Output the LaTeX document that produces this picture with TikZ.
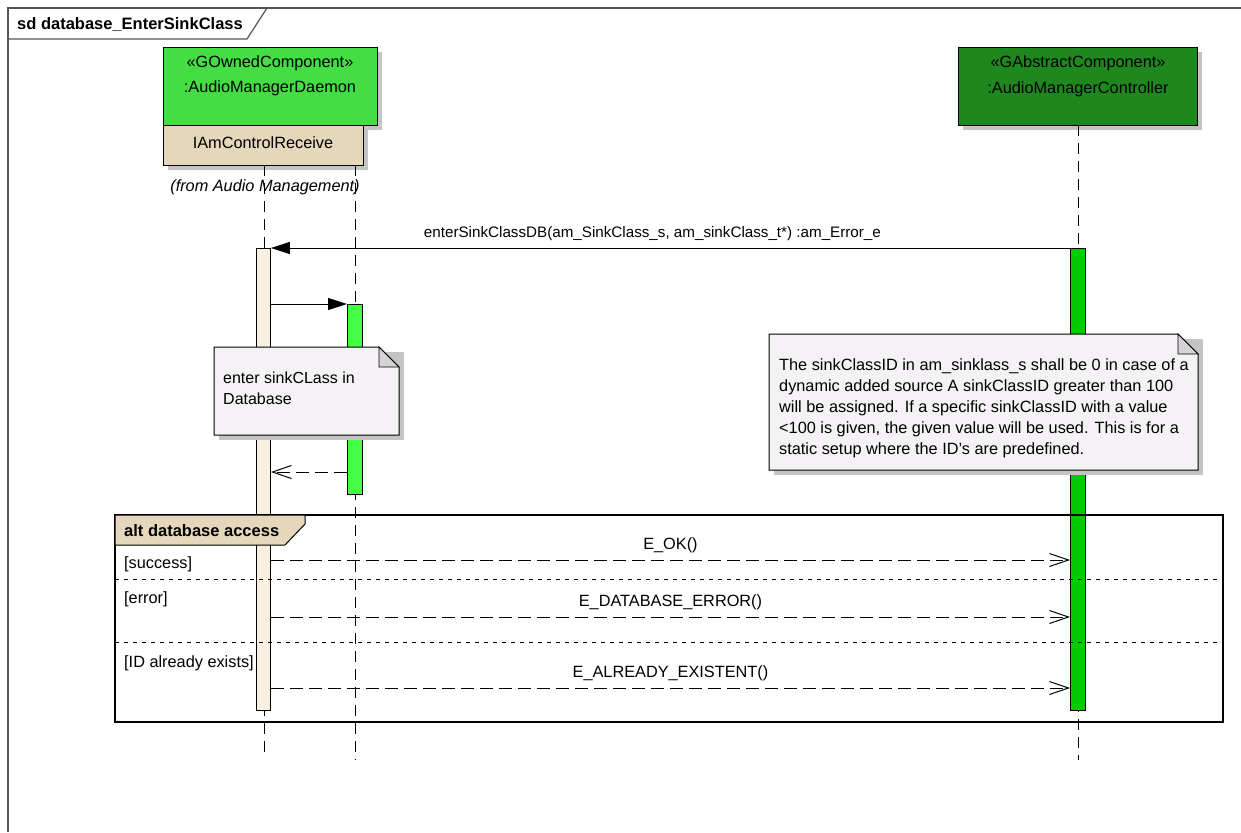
\documentclass[tikz,border=0pt]{standalone}
\usepackage{fontspec}
\setmainfont{Liberation Sans}
\usetikzlibrary{arrows.meta}
\definecolor{daemongreen}{HTML}{44DD44}
\definecolor{ctrlgreen}{HTML}{1E871E}
\definecolor{tanbox}{HTML}{E5D6BC}
\definecolor{linenbar}{HTML}{FAF0E1}
\definecolor{actgreen}{HTML}{00CC00}
\definecolor{actlight}{HTML}{44FF44}
\definecolor{notefill}{HTML}{F5F2F5}
\definecolor{shadowgray}{HTML}{C4C4C4}
\definecolor{foldgray}{HTML}{D6D3D6}
\definecolor{framegray}{HTML}{555555}
\tikzset{
  txt/.style={font=\fontsize{16.3}{19}\selectfont, inner sep=0pt},
  boldtxt/.style={font=\fontsize{16.5}{19}\selectfont\bfseries, inner sep=0pt},
  headbox/.style={draw=black, line width=1pt, anchor=north west, inner sep=0pt},
  actbar/.style={draw=black, line width=0.9pt, anchor=north west, inner sep=0pt},
  lifeline/.style={draw=black, line width=1pt, dash pattern=on 11pt off 7pt},
  syncmsg/.style={draw=black, line width=1pt, -{Triangle[length=19pt,width=12pt]}},
  retmsg/.style={draw=black, line width=1pt, dash pattern=on 13pt off 6pt, -{Straight Barb[length=19pt,width=13pt]}},
  divider/.style={draw=black, line width=0.9pt, dash pattern=on 4pt off 5pt},
}
\begin{document}
\begin{tikzpicture}[x=1pt,y=-1pt]
\useasboundingbox (0,0) rectangle (1241,832);
\fill[white] (0,0) rectangle (1241,832);

% outer frame (top and left only visible)
\draw[framegray, line width=1.2pt] (8,832) -- (8,8) -- (1241,8);
\draw[framegray, line width=1.2pt] (8,39) -- (247,39) -- (267,8);
\node[boldtxt, anchor=west] (title) at (17,25) {sd database\_EnterSinkClass};

% lifeline heads
\fill[shadowgray] (168,52) rectangle (382,130);
\node[headbox, fill=daemongreen, minimum width=214pt, minimum height=78pt] (dm) at (163,47) {};
\node[txt] (dmst) at (270,63) {«GOwnedComponent»};
\node[txt] (dmnm) at (270,88) {:AudioManagerDaemon};

\fill[shadowgray] (168,130) rectangle (368,170);
\node[headbox, fill=tanbox, minimum width=200pt, minimum height=40pt] (ifc) at (163,125) {};
\node[txt] (ifcnm) at (263,143) {IAmControlReceive};
\node[txt, font=\fontsize{16.3}{19}\selectfont\itshape] (from) at (265,187) {(from Audio Management)};

\fill[shadowgray] (963,52) rectangle (1202,130);
\node[headbox, fill=ctrlgreen, minimum width=239pt, minimum height=78pt] (ctl) at (958,47) {};
\node[txt] (ctlst) at (1078,63) {«GAbstractComponent»};
\node[txt] (ctlnm) at (1078,89) {:AudioManagerController};

% lifelines
\coordinate (l1top) at (264,165);
\coordinate (l1bot) at (264,758);
\coordinate (l2top) at (355,165);
\coordinate (l2bot) at (355,760);
\coordinate (l3top) at (1078,125);
\coordinate (l3bot) at (1078,760);
\draw[lifeline] (l1top) -- (l1bot);
\draw[lifeline] (l2top) -- (l2bot);
\draw[lifeline] (l3top) -- (l3bot);

% activation bars
\node[actbar, fill=linenbar, minimum width=14pt, minimum height=462pt] (act1) at (256,248) {};
\node[actbar, fill=actgreen, minimum width=15pt, minimum height=462pt] (act3) at (1070,248) {};
\node[actbar, fill=actlight, minimum width=15pt, minimum height=190pt] (act2) at (347,304) {};

% message 1
\draw[syncmsg] (act3.north west) -- node[inner sep=0pt, font=\fontsize{15.2}{18}\selectfont, above=7pt, xshift=-18pt] (m1lbl) {enterSinkClassDB(am\_SinkClass\_s, am\_sinkClass\_t*) :am\_Error\_e} (act1.north east);
% message 2
\coordinate (m2s) at (act1.east |- act2.north);
\draw[syncmsg] (m2s) -- (act2.north west);
% return
\coordinate (r1s) at ([yshift=-168pt]act2.north west);
\coordinate (r1e) at (act1.east |- r1s);
\draw[retmsg] (r1s) -- (r1e);

% note 1
\fill[shadowgray] (219,352) -- (404,352) -- (404,440) -- (219,440) -- cycle;
\draw[black, line width=1pt, fill=notefill] (214,347) -- (379,347) -- (399,367) -- (399,435) -- (214,435) -- cycle;
\draw[black, line width=0.8pt, fill=foldgray] (379,347) -- (379,367) -- (399,367) -- cycle;
\node[txt, anchor=north west, align=left, font=\fontsize{16}{21}\selectfont] (note1) at (223,372) {enter sinkCLass in\\Database};

% note 2
\fill[shadowgray] (774,339) -- (1203,339) -- (1203,475) -- (774,475) -- cycle;
\draw[black, line width=1pt, fill=notefill] (769,334) -- (1178,334) -- (1198,354) -- (1198,470) -- (769,470) -- cycle;
\draw[black, line width=0.8pt, fill=foldgray] (1178,334) -- (1178,354) -- (1198,354) -- cycle;
\node[txt, anchor=north west, align=left, font=\fontsize{16.3}{21}\selectfont] (note2) at (779,358) {The sinkClassID in am\_sinklass\_s shall be 0 in case of a\\dynamic added source A sinkClassID greater than 100\\will be assigned. If a specific sinkClassID with a value\\<100 is given, the given value will be used. This is for a\\static setup where the ID's are predefined.};

% alt fragment
\draw[black, line width=1.2pt] (115,515) rectangle (1223,722);
\draw[black, line width=1pt, fill=tanbox] (115,515) -- (305,515) -- (305,524) -- (285,545) -- (115,545) -- cycle;
\node[boldtxt, anchor=west] (altlbl) at (124,531) {alt database access};
\draw[divider] (115,579) -- (1223,579);
\draw[divider] (115,642) -- (1223,642);
\node[txt, anchor=west] (g1) at (124,564) {[success]};
\node[txt, anchor=west] (g2) at (124,599) {[error]};
\node[txt, anchor=west] (g3) at (124,663) {[ID already exists]};

% replies
\coordinate (rp1s) at (act1.east |- 0,560);
\coordinate (rp1e) at (act3.west |- 0,560);
\coordinate (rp2s) at (act1.east |- 0,617);
\coordinate (rp2e) at (act3.west |- 0,617);
\coordinate (rp3s) at (act1.east |- 0,688);
\coordinate (rp3e) at (act3.west |- 0,688);
\draw[retmsg] (rp1s) -- node[txt, above=7pt] (rp1lbl) {E\_OK()} (rp1e);
\draw[retmsg] (rp2s) -- node[txt, above=7pt] (rp2lbl) {E\_DATABASE\_ERROR()} (rp2e);
\draw[retmsg] (rp3s) -- node[txt, above=7pt] (rp3lbl) {E\_ALREADY\_EXISTENT()} (rp3e);
\end{tikzpicture}
\end{document}
